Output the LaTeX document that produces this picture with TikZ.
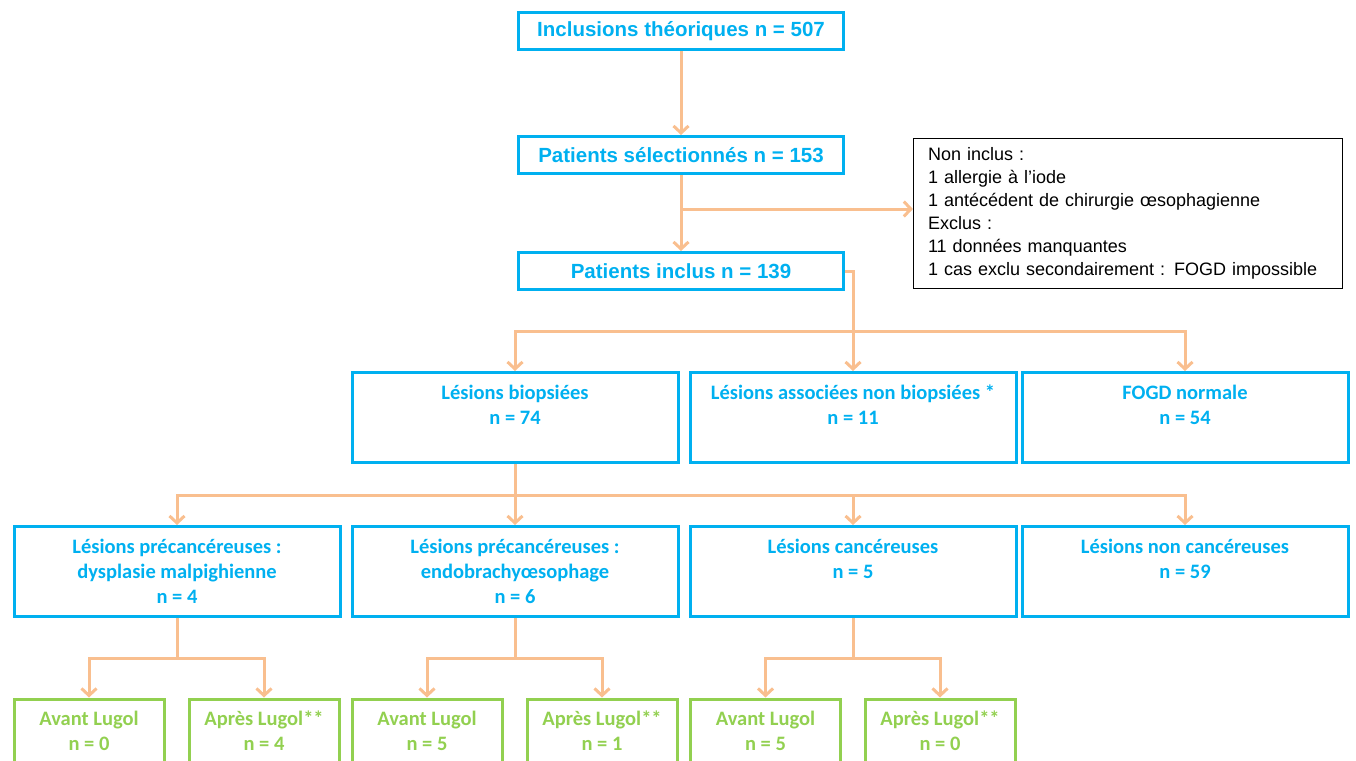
\documentclass[tikz,border=0pt]{standalone}
\usepackage{fontspec}
\setmainfont{Liberation Sans}
\newfontfamily\calfont{Carlito}
\usepackage{xcolor}
\usepackage{tikz}
\usetikzlibrary{positioning,arrows.meta,calc}
\definecolor{lightcyan}{HTML}{00B0F0}
\definecolor{lugolgreen}{HTML}{92D050}
\definecolor{peach}{HTML}{F9BF8F}

\tikzset{
  topbox/.style={draw=lightcyan, line width=3pt, text=lightcyan, inner sep=0pt,
    font=\bfseries\fontsize{20.5}{24}\selectfont, minimum width=325pt, minimum height=37pt},
  lesbox/.style={draw=lightcyan, line width=3pt, text=lightcyan, inner sep=0pt, align=center,
    font=\calfont\bfseries\fontsize{20.5}{25}\selectfont, minimum width=326pt, minimum height=90pt},
  lugbox/.style={draw=lugolgreen, line width=3pt, text=lugolgreen, inner sep=0pt, align=center,
    font=\calfont\bfseries\fontsize{20.5}{25}\selectfont, minimum width=150pt, minimum height=64pt},
  notebox/.style={draw=black, line width=1.2pt, align=left, inner sep=0pt, text width=400pt,
    font=\fontsize{18}{23}\selectfont, minimum width=429pt, minimum height=150pt},
  flow/.style={draw=peach, line width=3pt},
}

\begin{document}
\begin{tikzpicture}[x=1pt, y=-1pt, >={Straight Barb[length=7pt,width=15pt]}]
\useasboundingbox (0,0) rectangle (1356,760);
\clip (0,0) rectangle (1356,760);

% ---------------- Selection ----------------
\node[topbox] (theo) at (681,31) {Inclusions th\'eoriques n = 507};
\node[topbox] (sel) at (681,155) {Patients s\'electionn\'es n = 153};
\node[topbox] (inc) at (681,271) {Patients inclus n = 139};
\node[notebox] (excl) at (1128,213.5) {Non inclus :\\
1 allergie \`a l'iode\\
1 ant\'ec\'edent de chirurgie \oe sophagienne\\
Exclus :\\
11 donn\'ees manquantes\\
1 cas exclu secondairement : FOGD impossible};

\coordinate (split0) at (681,209);
\draw[flow, ->] (theo) -- (sel);
\draw[flow, ->] (sel) -- (inc);
\draw[flow, ->] (split0) -- (split0 -| excl.west);

% ---------------- Endoscopy results ----------------
\node[lesbox] (biop) at (515,417.5) {L\'esions biopsi\'ees\\ n = 74\\ \mbox{}};
\node[lesbox] (assoc) at (853,417.5) {L\'esions associ\'ees non biopsi\'ees *\\ n = 11\\ \mbox{}};
\node[lesbox] (fogd) at (1185,417.5) {FOGD normale\\ n = 54\\ \mbox{}};

\coordinate (split1) at (853,331);
\draw[flow] (inc.east) -| (split1);
\draw[flow, ->] (split1) -| (biop);
\draw[flow, ->] (split1) -- (assoc);
\draw[flow, ->] (split1) -| (fogd);

% ---------------- Histology ----------------
\node[lesbox] (dysp) at (177,571.5) {L\'esions pr\'ecanc\'ereuses :\\ dysplasie malpighienne\\ n = 4};
\node[lesbox] (endo) at (515,571.5) {L\'esions pr\'ecanc\'ereuses :\\ endobrachy\oe sophage\\ n = 6};
\node[lesbox] (canc) at (853,571.5) {L\'esions canc\'ereuses\\ n = 5\\ \mbox{}};
\node[lesbox] (ncanc) at (1185,571.5) {L\'esions non canc\'ereuses\\ n = 59\\ \mbox{}};

\coordinate (split2) at (515,495);
\draw[flow] (biop) -- (split2);
\draw[flow, ->] (split2) -| (dysp);
\draw[flow, ->] (split2) -- (endo);
\draw[flow, ->] (split2) -| (canc);
\draw[flow, ->] (split2) -| (ncanc);

% ---------------- Before / after Lugol ----------------
\node[lugbox] (avA) at (89,731) {Avant Lugol\\ n = 0};
\node[lugbox] (apA) at (264,731) {Apr\`es Lugol**\\ n = 4};
\node[lugbox] (avB) at (427,731) {Avant Lugol\\ n = 5};
\node[lugbox] (apB) at (602,731) {Apr\`es Lugol**\\ n = 1};
\node[lugbox] (avC) at (765.5,731) {Avant Lugol\\ n = 5};
\node[lugbox] (apC) at (940,731) {Apr\`es Lugol**\\ n = 0};

\coordinate (splitA) at (177,658);
\coordinate (splitB) at (515,658);
\coordinate (splitC) at (853,658);
\draw[flow] (dysp) -- (splitA);
\draw[flow] (endo) -- (splitB);
\draw[flow] (canc) -- (splitC);
\draw[flow, ->] (splitA) -| (avA);
\draw[flow, ->] (splitA) -| (apA);
\draw[flow, ->] (splitB) -| (avB);
\draw[flow, ->] (splitB) -| (apB);
\draw[flow, ->] (splitC) -| (avC);
\draw[flow, ->] (splitC) -| (apC);

\end{tikzpicture}
\end{document}
